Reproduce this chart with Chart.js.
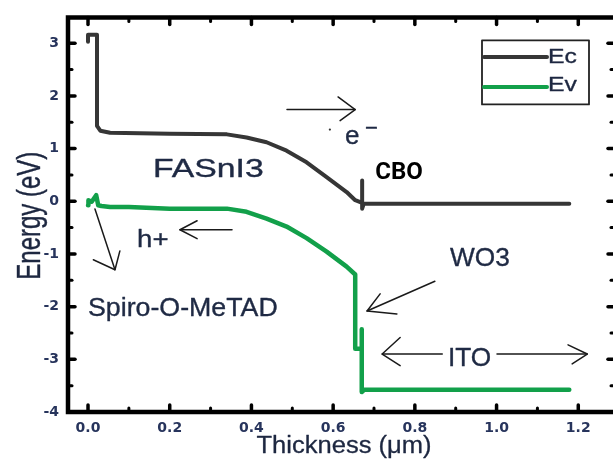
<!DOCTYPE html>
<html><head><meta charset="utf-8">
<script src="https://cdn.jsdelivr.net/npm/chart.js@4.4.1/dist/chart.umd.min.js"></script>
<style>html,body{margin:0;padding:0;background:#fff}#wrap{width:613px;height:460px;position:relative}</style>
</head><body><div id="wrap"><canvas id="c"></canvas></div>
<script>
// ---- data ----
const seriesNames = ['Ec', 'Ev'];
const ecThickness = [0, 0, 0.022, 0.022, 0.03, 0.054, 0.2, 0.34, 0.388, 0.437, 0.486, 0.535, 0.584, 0.633, 0.654, 0.671, 0.671, 0.671, 0.675, 1.178];
const ecEnergy    = [3.03, 3.16, 3.16, 1.43, 1.34, 1.30, 1.28, 1.27, 1.21, 1.12, 0.96, 0.74, 0.46, 0.175, 0.02, -0.03, 0.395, -0.14, -0.045, -0.045];
const evThickness = [0, 0.001, 0.009, 0.02, 0.025, 0.033, 0.054, 0.1, 0.2, 0.34, 0.388, 0.437, 0.486, 0.535, 0.584, 0.633, 0.654, 0.654, 0.67, 0.67, 0.67, 0.676, 1.178];
const evEnergy    = [-0.075, 0.02, -0.01, 0.115, -0.075, -0.09, -0.107, -0.11, -0.14, -0.14, -0.20, -0.33, -0.48, -0.70, -0.955, -1.24, -1.39, -2.80, -2.80, -2.43, -3.62, -3.58, -3.58];
const xTickValues = [0, 0.2, 0.4, 0.6, 0.8, 1.0, 1.2];
const xMinorValues = [0.1, 0.3, 0.5, 0.7, 0.9, 1.1];
const yTickValues = [-4, -3, -2, -1, 0, 1, 2, 3];
const yMinorValues = [-3.5, -2.5, -1.5, -0.5, 0.5, 1.5, 2.5];
const xTitle = 'Thickness (μm)';
const yTitle = 'Energy (eV)';

// ---- annotations (in data units) ----
const annotationTexts = [
  {text: 'FASnI3', t: 0.159, e: 0.458, font: '25px "Liberation Sans", Arial', sx: 1.35, color: '#1f2a44'},
  {text: 'e', t: 0.629, e: 1.079, font: '26px "Liberation Sans", Arial', sx: 1.0, color: '#1f2a44'},
  {text: '−', t: 0.678, e: 1.25, font: '22px "Liberation Sans", Arial', sx: 1.0, color: '#1f2a44'},
  {text: 'CBO', t: 0.703, e: 0.42, font: 'bold 24px Roboto', sx: 1.0, color: '#000000'},
  {text: 'h+', t: 0.12, e: -0.863, font: '23px "Liberation Sans", Arial', sx: 1.2, color: '#1f2a44'},
  {text: 'Spiro-O-MeTAD', t: 0.0, e: -2.18, font: '25px "Liberation Sans", Arial', sx: 1.07, color: '#1f2a44'},
  {text: 'WO3', t: 0.886, e: -1.237, font: '25px "Liberation Sans", Arial', sx: 1.05, color: '#1f2a44'},
  {text: 'ITO', t: 0.881, e: -3.12, font: '25px "Liberation Sans", Arial', sx: 1.05, color: '#1f2a44'}
];
const annotationArrows = [
  {shaft: [[0.487, 1.74], [0.654, 1.74]], head: [[0.612, 1.98], [0.654, 1.74], [0.617, 1.53]]},
  {shaft: [[0.225, -0.54], [0.3525, -0.54]], head: [[0.267, -0.37], [0.225, -0.54], [0.267, -0.71]]},
  {shaft: [[0.017, -0.145], [0.066, -1.299]], head: [[0.013, -1.111], [0.066, -1.299], [0.078, -0.942]]},
  {shaft: [[0.849, -1.519], [0.683, -2.084]], head: [[0.715, -1.757], [0.683, -2.084], [0.756, -2.14]]},
  {shaft: [[0.72, -2.90], [0.867, -2.90]], head: [[0.764, -2.587], [0.72, -2.90], [0.764, -3.12]]},
  {shaft: [[1.001, -2.90], [1.222, -2.90]], head: [[1.175, -2.725], [1.222, -2.90], [1.185, -3.088]]}
];
const annotationDots = [[0.592, 1.36]];

const toPoints = (xs, ys) => xs.map((v, i) => ({x: v, y: ys[i]}));

function heavyText(ctx, str, x0, y0, color, w) {
  ctx.fillStyle = color; ctx.strokeStyle = color; ctx.lineWidth = w; ctx.lineJoin = 'round';
  ctx.fillText(str, x0, y0);
  if (w > 0) ctx.strokeText(str, x0, y0);
}

const decor = {
  id: 'decor',
  afterDatasetsDraw(chart) {
    const {ctx, chartArea: a, scales: {x, y}} = chart;
    ctx.save();
    // frame
    ctx.strokeStyle = '#000'; ctx.lineWidth = 4.5; ctx.lineCap = 'square';
    ctx.beginPath();
    ctx.moveTo(a.left, a.top); ctx.lineTo(a.left, a.bottom); ctx.lineTo(a.right + 2, a.bottom);
    ctx.moveTo(a.left, a.top); ctx.lineTo(a.right + 2, a.top);
    ctx.moveTo(a.right + 2.5, a.top); ctx.lineTo(a.right + 2.5, a.bottom);
    ctx.stroke();
    // ticks (inward)
    ctx.lineCap = 'round';
    const tick = (x1, y1, x2, y2, w) => { ctx.lineWidth = w; ctx.beginPath(); ctx.moveTo(x1, y1); ctx.lineTo(x2, y2); ctx.stroke(); };
    xTickValues.forEach(v => { const p = x.getPixelForValue(v); tick(p, a.bottom, p, a.bottom - 7, 3.5); tick(p, a.top, p, a.top + 7, 3.5); });
    xMinorValues.forEach(v => { const p = x.getPixelForValue(v); tick(p, a.bottom, p, a.bottom - 4, 3); tick(p, a.top, p, a.top + 4, 3); });
    yTickValues.forEach(v => { const p = y.getPixelForValue(v); tick(a.left, p, a.left + 7, p, 3.5); tick(a.right + 2, p, a.right - 5, p, 3.5); });
    yMinorValues.forEach(v => { const p = y.getPixelForValue(v); tick(a.left, p, a.left + 4, p, 3); tick(a.right + 2, p, a.right - 2, p, 3); });

    // arrows
    ctx.strokeStyle = '#1a1a1a'; ctx.lineWidth = 1.5; ctx.lineJoin = 'round';
    const poly = pts => { ctx.beginPath(); pts.forEach(([t, e], i) => { const px = x.getPixelForValue(t), py = y.getPixelForValue(e); i ? ctx.lineTo(px, py) : ctx.moveTo(px, py); }); ctx.stroke(); };
    annotationArrows.forEach(ar => { poly(ar.shaft); poly(ar.head); });
    ctx.fillStyle = '#333';
    annotationDots.forEach(([t, e]) => { ctx.beginPath(); ctx.arc(x.getPixelForValue(t), y.getPixelForValue(e), 1.1, 0, Math.PI * 2); ctx.fill(); });

    // texts
    annotationTexts.forEach(o => {
      ctx.save();
      ctx.translate(x.getPixelForValue(o.t), y.getPixelForValue(o.e));
      ctx.scale(o.sx, 1);
      ctx.font = o.font; ctx.textAlign = 'left'; ctx.textBaseline = 'alphabetic';
      heavyText(ctx, o.text, 0, 0, o.color, o.color === '#000000' ? 0 : 0.35);
      ctx.restore();
    });

    // legend box
    const lx = a.right - 131, ly = a.top + 23, lw = 107, lh = 64;
    ctx.fillStyle = '#fff'; ctx.fillRect(lx, ly, lw, lh);
    ctx.strokeStyle = '#222'; ctx.lineWidth = 1.8; ctx.strokeRect(lx, ly, lw, lh);
    chart.data.datasets.forEach((ds, i) => {
      const yy = ly + 16.5 + i * 30;
      ctx.strokeStyle = ds.borderColor; ctx.lineWidth = 4; ctx.lineCap = 'round';
      ctx.beginPath(); ctx.moveTo(lx + 2, yy); ctx.lineTo(lx + 65, yy); ctx.stroke();
      ctx.save();
      ctx.translate(lx + 66, ly + 23 + i * 28);
      ctx.scale(1.18, 1);
      ctx.font = '21px "Liberation Sans", Arial'; ctx.textBaseline = 'alphabetic';
      heavyText(ctx, ds.label, 0, 0, '#1d2740', 0.35);
      ctx.restore();
    });

    // axis titles
    ctx.save();
    ctx.translate((a.left + a.right) / 2 + 3.5, 453);
    ctx.scale(1.11, 1);
    ctx.font = '23px "Liberation Sans", Arial'; ctx.textAlign = 'center'; ctx.textBaseline = 'alphabetic';
    heavyText(ctx, xTitle, 0, 0, '#1d2740', 0.3);
    ctx.restore();
    ctx.save();
    ctx.translate(a.left - 28, (a.top + a.bottom) / 2 + 1);
    ctx.rotate(-Math.PI / 2);
    ctx.scale(1, 1.35);
    ctx.font = '24px "Liberation Sans", Arial'; ctx.textAlign = 'center'; ctx.textBaseline = 'alphabetic';
    heavyText(ctx, yTitle, 0, 0, '#1d2740', 0.3);
    ctx.restore();
    ctx.restore();
  }
};

new Chart(document.getElementById('c'), {
  type: 'scatter',
  data: {
    datasets: [
      {label: seriesNames[0], data: toPoints(ecThickness, ecEnergy), showLine: true, borderColor: '#363636', borderWidth: 4, pointRadius: 0, borderJoinStyle: 'round', borderCapStyle: 'round', tension: 0},
      {label: seriesNames[1], data: toPoints(evThickness, evEnergy), showLine: true, borderColor: '#12a04a', borderWidth: 4.5, pointRadius: 0, borderJoinStyle: 'round', borderCapStyle: 'round', tension: 0}
    ]
  },
  options: {
    responsive: true, maintainAspectRatio: false, animation: false, devicePixelRatio: 1,
    layout: {padding: {top: 14, left: 0, right: 0, bottom: 0}},
    plugins: {legend: {display: false}, tooltip: {enabled: false}},
    scales: {
      x: {
        type: 'linear', min: -0.049, max: 1.285,
        grid: {display: false, drawTicks: false}, border: {display: false},
        afterBuildTicks: s => { s.ticks = xTickValues.map(v => ({value: v})); },
        afterFit: s => { s.height = 48; },
        ticks: {padding: 8, maxRotation: 0, autoSkip: false, color: '#27345c', font: {family: 'DejaVu Sans', size: 14, weight: 'bold'}, callback: v => Number(v).toFixed(1)}
      },
      y: {
        type: 'linear', min: -4, max: 3.49,
        grid: {display: false, drawTicks: false}, border: {display: false},
        afterBuildTicks: s => { s.ticks = yTickValues.map(v => ({value: v})); },
        afterFit: s => { s.width = 68; },
        ticks: {padding: 9, autoSkip: false, color: '#27345c', font: {family: 'DejaVu Sans', size: 14, weight: 'bold'}, callback: v => String(v)}
      }
    }
  },
  plugins: [decor]
});
</script></body></html>
